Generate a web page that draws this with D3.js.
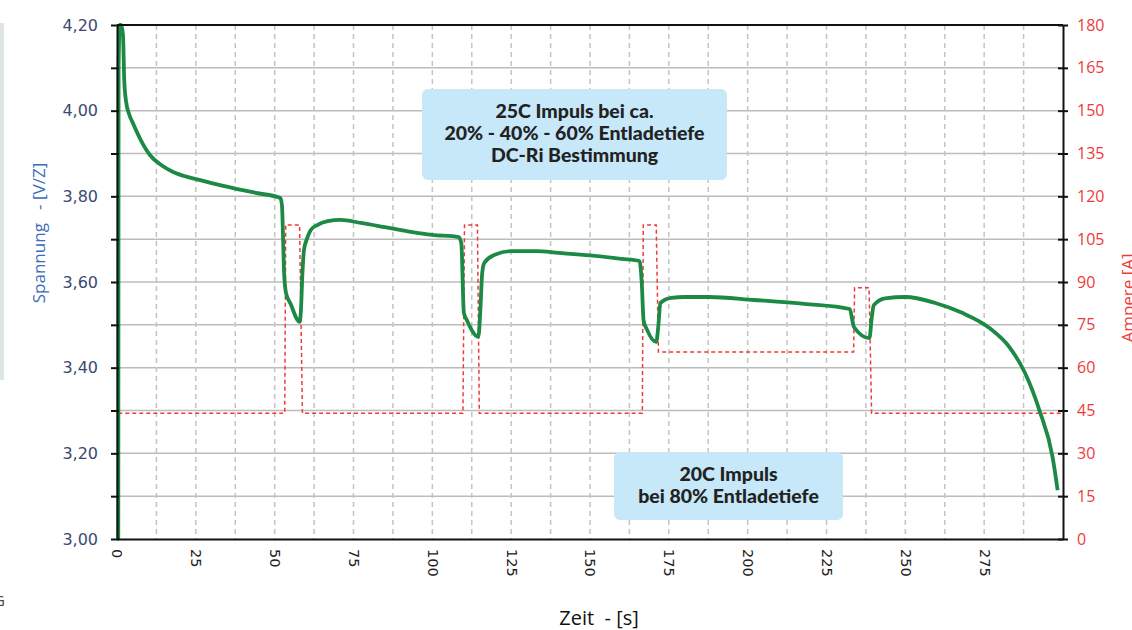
<!DOCTYPE html>
<html>
<head>
<meta charset="utf-8">
<script src="https://cdn.jsdelivr.net/npm/d3@7"></script>
<style>
  body { margin: 0; background: #fff; }
  svg { display: block; }
  .boxText { font-family: "Lato", "Open Sans", sans-serif; font-weight: 900; font-size: 19.5px; fill: #222; }
</style>
</head>
<body>
<div id="chart"></div>
<script>
// Voltage curve (time in s, voltage in V/Z)
var timeV = [0.4, 0.5, 0.9, 1.3, 1.9, 2.3, 2.9, 3.8, 5.1, 7.5, 10.5, 14, 17.8, 22, 26.4, 31, 36.9, 44, 51.8,
  52.3, 53.0, 53.6, 55, 57.9, 58.3, 58.8, 59.3, 60.2, 61.4, 63.5, 66.8, 70.9, 77.3, 85, 93.2, 100, 108.4,
  109.2, 110, 111, 114.6, 115.2, 115.8, 116.5, 119.6, 125, 133, 140, 150, 160, 165.7,
  166.4, 167.0, 168, 171, 171.7, 172.3, 175.8, 180, 187.6, 202, 218, 232.4,
  233.2, 233.7, 238.6, 239.4, 240, 243.6, 250, 259.5, 268, 276.6, 283, 288, 292.5, 296.7, 298.3];
var voltage = [3.0, 4.1, 4.2, 4.2, 4.177, 4.07, 4.02, 3.993, 3.97, 3.932, 3.896, 3.873, 3.857, 3.846, 3.838, 3.829, 3.819, 3.808, 3.796,
  3.78, 3.62, 3.574, 3.55, 3.507, 3.53, 3.62, 3.675, 3.70, 3.721, 3.733, 3.742, 3.745, 3.738, 3.728, 3.717, 3.71, 3.705,
  3.69, 3.528, 3.51, 3.472, 3.53, 3.62, 3.645, 3.663, 3.672, 3.672, 3.668, 3.662, 3.654, 3.649,
  3.60, 3.51, 3.49, 3.46, 3.50, 3.551, 3.563, 3.565, 3.565, 3.558, 3.549, 3.537,
  3.51, 3.495, 3.469, 3.52, 3.546, 3.562, 3.565, 3.551, 3.528, 3.493, 3.448, 3.387, 3.301, 3.191, 3.114];

// Current steps (time in s, current in A)
var timeA = [0.4, 53.2, 53.5, 57.9, 58.8, 109.7, 110.2, 114.3, 114.9, 166.6, 166.9, 171, 171.7, 233.6, 233.9, 238.5, 239.3, 300];
var current = [44, 44, 110, 110, 44, 44, 110, 110, 44, 44, 110, 110, 65.5, 65.5, 88, 88, 44, 44];

var xTicks = [0, 25, 50, 75, 100, 125, 150, 175, 200, 225, 250, 275];
var rightTicks = [0, 15, 30, 45, 60, 75, 90, 105, 120, 135, 150, 165, 180];

var boxTop = ["25C Impuls bei ca.", "20% - 40% - 60% Entladetiefe", "DC-Ri Bestimmung"];
var boxBottom = ["20C Impuls", "bei 80% Entladetiefe"];

var svgWidth = 1132;
var svgHeight = 630;
var margin = { top: 25, right: 69, bottom: 91, left: 117 };
var width = svgWidth - margin.left - margin.right;
var height = svgHeight - margin.top - margin.bottom;

var svg = d3.select("#chart")
  .append("svg")
  .attr("width", svgWidth)
  .attr("height", svgHeight);

// light panel on the far left edge
svg.append("rect")
  .attr("x", 0).attr("y", 23).attr("width", 4).attr("height", 357)
  .attr("fill", "#dde7df");
svg.append("text")
  .attr("x", -6).attr("y", 606)
  .attr("font-family", "Open Sans, sans-serif").attr("font-size", 15).attr("fill", "#444")
  .text("G");

var chartGroup = svg.append("g")
  .attr("transform", `translate(${margin.left}, ${margin.top})`);

// scales
var xScale = d3.scaleLinear().domain([0, 300]).range([0, width]);
var yScale = d3.scaleLinear().domain([3.0, 4.2]).range([height, 0]);
var aScale = d3.scaleLinear().domain([0, 180]).range([height, 0]);

// grid: solid horizontal lines every 15 A (= 0.1 V)
chartGroup.append("g")
  .selectAll("line")
  .data(rightTicks.slice(1, -1))
  .enter()
  .append("line")
  .attr("x1", 0).attr("x2", width)
  .attr("y1", d => aScale(d)).attr("y2", d => aScale(d))
  .attr("stroke", "#bcbcbc").attr("stroke-width", 1.5);

// grid: dashed verticals every 12.5 s
chartGroup.append("g")
  .selectAll("line")
  .data(d3.range(1, 24).map(i => i * 12.5))
  .enter()
  .append("line")
  .attr("x1", d => xScale(d)).attr("x2", d => xScale(d))
  .attr("y1", 0).attr("y2", height)
  .attr("stroke", "#c4c4c4").attr("stroke-width", 1.5)
  .attr("stroke-dasharray", "5,4");

// text boxes (drawn under the curves)
function drawBox(x, y, w, h, lines, lineGap) {
  var g = chartGroup.append("g");
  g.append("rect")
    .attr("x", x).attr("y", y).attr("width", w).attr("height", h)
    .attr("rx", 6).attr("fill", "#c6e8f8");
  g.selectAll("text")
    .data(lines)
    .enter()
    .append("text")
    .attr("class", "boxText")
    .attr("x", x + w / 2)
    .attr("y", (d, i) => y + 29 + i * lineGap)
    .attr("text-anchor", "middle")
    .text(d => d);
}
drawBox(305, 64, 305, 91, boxTop, 22);
drawBox(497, 427, 229, 68, boxBottom, 22);

// current line (red dashed)
var aLine = d3.line()
  .x((d, i) => xScale(timeA[i]))
  .y(d => aScale(d));

chartGroup.append("path")
  .datum(current)
  .attr("d", aLine)
  .attr("fill", "none")
  .attr("stroke", "#f03a3a")
  .attr("stroke-width", 1.5)
  .attr("stroke-dasharray", "4,3");

// voltage line (green)
var vLine = d3.line()
  .x((d, i) => xScale(timeV[i]))
  .y(d => yScale(d))
  .curve(d3.curveMonotoneX);

chartGroup.append("path")
  .datum(voltage)
  .attr("d", vLine)
  .attr("fill", "none")
  .attr("stroke", "#1c8a45")
  .attr("stroke-width", 3.8)
  .attr("stroke-linejoin", "round");

// frame top
chartGroup.append("line")
  .attr("x1", 0).attr("x2", width).attr("y1", 0).attr("y2", 0)
  .attr("stroke", "#111").attr("stroke-width", 2);

// left axis
var commaFmt = d3.formatLocale({ decimal: ",", thousands: ".", grouping: [3], currency: ["", ""] }).format(".2f");
var leftAxis = d3.axisLeft(yScale)
  .tickValues(d3.range(30, 43).map(i => i / 10))
  .tickSize(8)
  .tickSizeOuter(0)
  .tickFormat(d => Math.round(d * 10) % 2 === 0 ? commaFmt(d) : "");

var gLeft = chartGroup.append("g").call(leftAxis);
gLeft.select(".domain").attr("stroke", "#111").attr("stroke-width", 2);
gLeft.selectAll(".tick line").attr("stroke", "#111").attr("stroke-width", 2).attr("transform", "translate(2,0)");
gLeft.selectAll(".tick text")
  .attr("x", -19)
  .attr("font-family", "DejaVu Sans, sans-serif")
  .attr("font-size", 16)
  .attr("fill", "#3a4a72");

// right axis
var rightAxis = d3.axisRight(aScale)
  .tickValues(rightTicks)
  .tickSize(5)
  .tickSizeOuter(0);

var gRight = chartGroup.append("g")
  .attr("transform", `translate(${width}, 0)`)
  .call(rightAxis);
gRight.select(".domain").attr("stroke", "#111").attr("stroke-width", 2);
gRight.selectAll(".tick line").attr("stroke", "#111").attr("stroke-width", 2).attr("x1", -5);
gRight.selectAll(".tick text")
  .attr("x", 14)
  .attr("font-family", "Open Sans, sans-serif")
  .attr("font-size", 16)
  .attr("fill", "#f03a3a");

// bottom axis
var bottomAxis = d3.axisBottom(xScale)
  .tickValues(xTicks)
  .tickSize(0)
  .tickSizeOuter(0);

var gBottom = chartGroup.append("g")
  .attr("transform", `translate(0, ${height})`)
  .call(bottomAxis);
gBottom.select(".domain").attr("stroke", "#111").attr("stroke-width", 2);
gBottom.selectAll(".tick text")
  .attr("transform", "rotate(90)")
  .attr("x", 10)
  .attr("y", 0)
  .attr("dy", "0.35em")
  .attr("text-anchor", "start")
  .attr("font-family", "DejaVu Sans, sans-serif")
  .attr("font-size", 14.5)
  .attr("fill", "#222");

// axis titles
svg.append("text")
  .attr("transform", "translate(45, 233) rotate(-90)")
  .attr("text-anchor", "middle")
  .attr("font-family", "Open Sans, sans-serif")
  .attr("font-size", 17)
  .attr("fill", "#3d6cb7")
  .attr("xml:space", "preserve")
  .text("Spannung   - [V/Z]");

svg.append("text")
  .attr("transform", "translate(1134, 298) rotate(-90)")
  .attr("text-anchor", "middle")
  .attr("font-family", "Open Sans, sans-serif")
  .attr("font-size", 17)
  .attr("fill", "#f03a3a")
  .text("Ampere [A]");

svg.append("text")
  .attr("x", 599)
  .attr("y", 625)
  .attr("text-anchor", "middle")
  .attr("font-family", "Open Sans, sans-serif")
  .attr("font-size", 20)
  .attr("fill", "#111")
  .attr("xml:space", "preserve")
  .text("Zeit  - [s]");
</script>
</body>
</html>
